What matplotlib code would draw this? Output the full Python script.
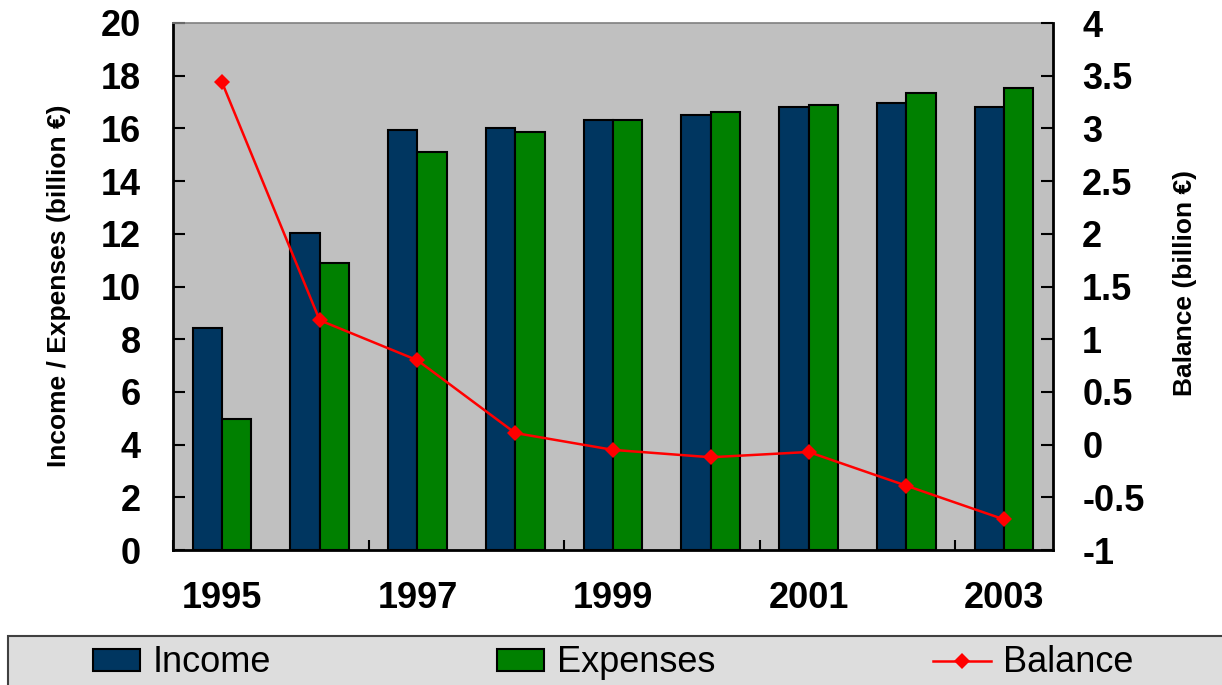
import matplotlib
matplotlib.use("Agg")
import matplotlib.pyplot as plt
from matplotlib.patches import Rectangle
from matplotlib.lines import Line2D
import numpy as np

# Annual figures (billion €)
years = [1995, 1996, 1997, 1998, 1999, 2000, 2001, 2002, 2003]
income = [8.42, 12.02, 15.94, 16.00, 16.32, 16.51, 16.83, 16.97, 16.83]
expenses = [4.97, 10.88, 15.12, 15.88, 16.32, 16.63, 16.89, 17.33, 17.52]
balance = [3.44, 1.18, 0.80, 0.11, -0.05, -0.12, -0.07, -0.39, -0.71]
year_labels = ["1995", "", "1997", "", "1999", "", "2001", "", "2003"]

INCOME_COLOR = "#003660"
EXPENSE_COLOR = "#008000"
BALANCE_COLOR = "#FF0000"
PLOT_BG = "#C0C0C0"

plt.rcParams["font.family"] = ["Liberation Sans", "DejaVu Sans"]

W, H = 1222, 685
fig = plt.figure(figsize=(W / 100, H / 100), dpi=100)

left, right, top, bottom = 173, 1053, 23, 550
ax = fig.add_axes([left / W, 1 - bottom / H, (right - left) / W, (bottom - top) / H])
ax.set_facecolor(PLOT_BG)

x = np.arange(len(years))
bw = 0.30
bars_inc = ax.bar(x - bw / 2, income, width=bw, color=INCOME_COLOR,
                  edgecolor="black", linewidth=1.5, label="Income", zorder=2)
bars_exp = ax.bar(x + bw / 2, expenses, width=bw, color=EXPENSE_COLOR,
                  edgecolor="black", linewidth=1.5, label="Expenses", zorder=2)

ax.set_xlim(-0.5, len(years) - 0.5)
ax.set_ylim(0, 20)
ax.set_yticks(np.arange(0, 21, 2))
ax.set_xticks(x)
ax.set_xticklabels(year_labels)
ax.set_xticks(np.arange(-0.5, len(years) - 0.5, 2), minor=True)

for lab in ax.get_yticklabels() + ax.get_xticklabels():
    lab.set_fontsize(26)
    lab.set_fontweight("bold")

ax.tick_params(axis="y", direction="in", length=8.6, width=1.5, pad=23,
               left=True, right=False)
ax.tick_params(axis="x", which="major", length=0, pad=22)
ax.tick_params(axis="x", which="minor", direction="in", length=7, width=1.5)

for s in ("left", "bottom"):
    ax.spines[s].set_linewidth(2)
    ax.spines[s].set_color("black")
ax.spines["top"].set_color("#808080")
ax.spines["top"].set_linewidth(1.2)
ax.spines["right"].set_visible(False)

# Balance on the secondary axis
ax2 = ax.twinx()
ax2.plot(x, balance, color=BALANCE_COLOR, linewidth=1.8, marker="D",
         markersize=8, markeredgewidth=0, label="Balance", zorder=3)
ax2.set_ylim(-1, 4)
ax2.set_yticks(np.arange(-1, 4.01, 0.5))
ax2.set_yticklabels([f"{v:g}" for v in np.arange(-1, 4.01, 0.5)])
for lab in ax2.get_yticklabels():
    lab.set_fontsize(26)
    lab.set_fontweight("bold")
ax2.tick_params(axis="y", direction="in", length=9, width=1.5, pad=21)
ax2.spines["right"].set_linewidth(2)
ax2.spines["right"].set_color("black")
for s in ("left", "top", "bottom"):
    ax2.spines[s].set_visible(False)

# Axis titles
fig.text(59 / W, 1 - 286 / H, "Income / Expenses (billion €)", rotation=90,
         ha="center", va="center", fontsize=19, fontweight="bold")
fig.text(1185 / W, 1 - 283 / H, "Balance (billion €)", rotation=90,
         ha="center", va="center", fontsize=19, fontweight="bold")

# Legend band along the bottom
fig.patches.append(Rectangle((8 / W, -0.02), 1.05, 0.02 + (1 - 636 / H),
                             transform=fig.transFigure, facecolor="#DDDDDD",
                             edgecolor="#404040", linewidth=1.5, zorder=0))

leg_y = 1 - 663 / H
entries = [
    (bars_inc, "Income", 93, 1.3),
    (bars_exp, "Expenses", 497, 1.3),
    (Line2D([], [], color=BALANCE_COLOR, linewidth=1.8, marker="D",
            markersize=8, markeredgewidth=0), "Balance", 933, 1.6),
]
for handle, text, x0, hl in entries:
    fig.legend([handle], [text], loc="center left",
               bbox_to_anchor=(x0 / W, leg_y), frameon=False,
               fontsize=26, handlelength=hl, handleheight=0.55,
               handletextpad=0.35, borderpad=0, borderaxespad=0)

fig.savefig("out.png", dpi=100)
